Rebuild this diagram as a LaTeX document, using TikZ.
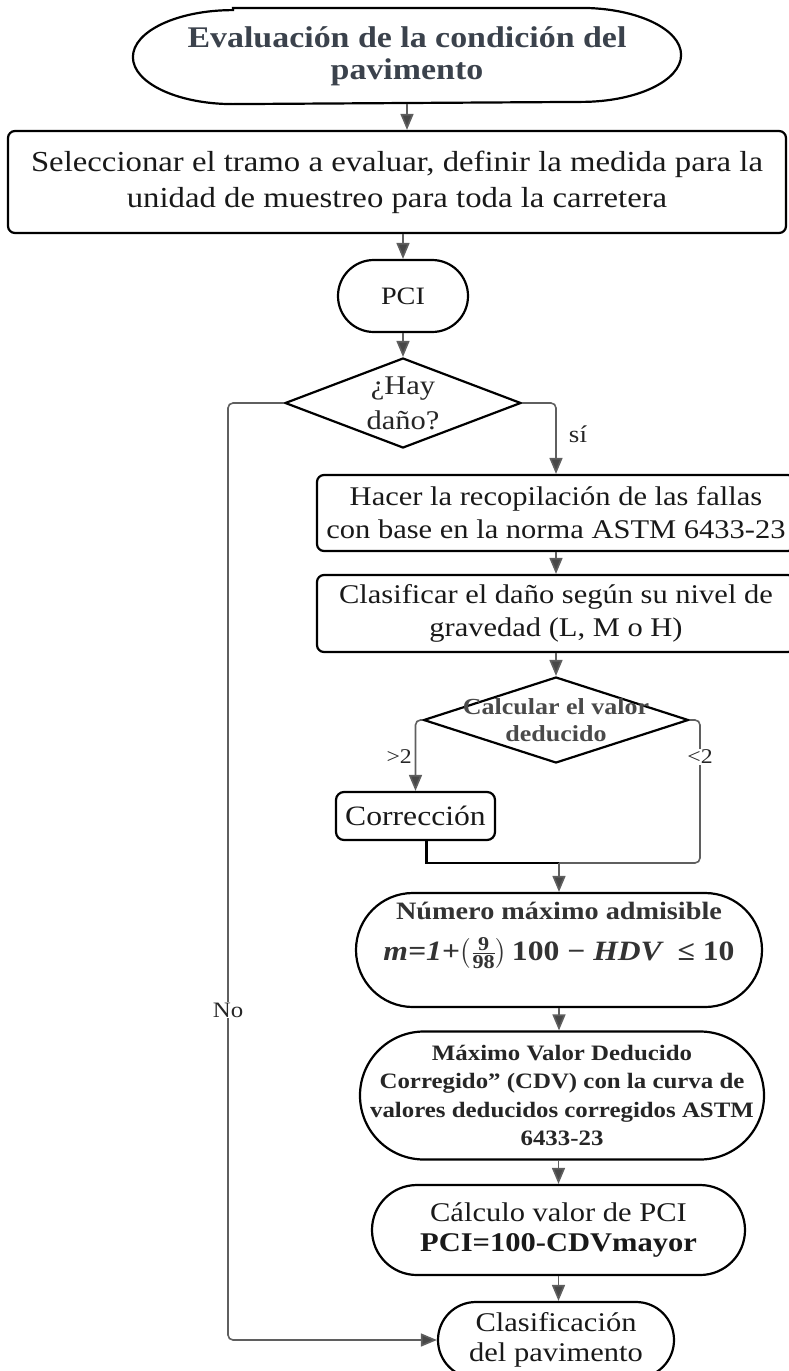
\documentclass[tikz,border=0pt]{standalone}
\usepackage{amsmath}
\usepackage{fontspec}
\setmainfont{Liberation Serif}[FakeStretch=1.13]
\usetikzlibrary{shapes.geometric,arrows.meta,calc}
\newcommand{\fsz}[2]{\fontsize{#1}{#2}\selectfont}
\definecolor{titlec}{HTML}{3B424C}
\definecolor{linec}{HTML}{5F5F5F}
\definecolor{headc}{HTML}{474747}
\definecolor{dtext}{HTML}{4A4A4A}
\tikzset{
  shp/.style={draw=black, line width=2.2pt, inner sep=0pt, align=center, text=black!90},
  boxs/.style={shp, rectangle, rounded corners=7pt},
  stad/.style={shp, rectangle},
  txt/.style={inner sep=0pt, align=center, text=black!90},
  dia/.style={draw=black, line width=2.2pt, diamond, inner sep=0pt, shape aspect=3},
  conn/.style={draw=linec, line width=1.6pt},
  arr/.style={conn, -{Triangle[length=16pt,width=13pt,fill=headc]}},
  blk/.style={draw=black, line width=2.2pt},
  lab/.style={inner sep=1pt, text=black!85}
}
\begin{document}
\begin{tikzpicture}[x=1pt,y=-1pt]
\useasboundingbox (0,0) rectangle (788,1371);
% nodes
\node[shp, draw=none, minimum width=546pt, minimum height=94pt, font=\fsz{30}{32}\bfseries, text=titlec] (start) at (407,56) {Evaluación de la condición del\\pavimento};
\draw[shp] ([xshift=100pt]start.north west) -- ([xshift=-100pt]start.north east)
  arc[start angle=90,end angle=-90,x radius=100pt,y radius=47pt]
  -- ([xshift=100pt]start.south west)
  arc[start angle=270,end angle=90,x radius=100pt,y radius=47pt] -- cycle;
\node[boxs, minimum width=778pt, minimum height=102pt, font=\fsz{29}{36}] (sel) at (397,182) {Seleccionar el tramo a evaluar, definir la medida para la\\unidad de muestreo para toda la carretera};
\node[stad, rounded corners=35.9pt, minimum width=130pt, minimum height=72pt, font=\fsz{25}{30}] (pci) at (403,296) {PCI};
\node[dia, minimum width=236pt, minimum height=90pt, label={[font=\fsz{27}{35}, align=center, text=black!85]center:{¿Hay\\daño?}}] (d1) at (403,403) {};
\node[boxs, minimum width=478pt, minimum height=76pt, font=\fsz{27}{33}] (hacer) at (556,513) {Hacer la recopilación de las fallas\\con base en la norma ASTM 6433-23};
\node[boxs, minimum width=478pt, minimum height=77pt, font=\fsz{27}{33}] (clasif) at (556,613.5) {Clasificar el daño según su nivel de\\gravedad (L, M o H)};
\node[dia, minimum width=265pt, minimum height=86pt, label={[font=\fsz{23}{27}\bfseries, align=center, text=dtext]center:{Calcular el valor\\deducido}}] (d2) at (556,720) {};
\node[boxs, rounded corners=8pt, minimum width=159pt, minimum height=48pt, font=\fsz{28}{34}] (corr) at (415.5,816) {Corrección};
\node[stad, rounded corners=56.9pt, minimum width=406pt, minimum height=114pt] (num) at (559,950) {};
\node[txt, font=\fsz{25}{30}\bfseries, text=black!80] (numt) at ([yshift=39pt]num.center) {Número máximo admisible};
\node[txt, font=\fsz{28}{34}\bfseries, text=black!80] (numf) at ([yshift=-3pt]num.center) {{\itshape m=1+}$\bigl(\frac{\textbf{9}}{\textbf{98}}\bigr)$\,100 − {\itshape HDV}\ \ ≤ 10};
\node[stad, rounded corners=63.9pt, minimum width=404pt, minimum height=128pt, font=\fsz{22}{28.5}\bfseries, text=black!85] (maxv) at (562,1095.5) {Máximo Valor Deducido\\Corregido'' (CDV) con la curva de\\valores deducidos corregidos ASTM\\6433-23};
\node[stad, rounded corners=44.9pt, minimum width=373pt, minimum height=90pt, font=\fsz{27}{30}] (calc) at (558.5,1230) {Cálculo valor de PCI\\\textbf{PCI=100-CDVmayor}};
\node[stad, rounded corners=37.9pt, minimum width=236pt, minimum height=76pt, font=\fsz{27}{30}] (clas) at (556,1340) {Clasificación\\del pavimento};
% helper coordinates
\coordinate (merge) at (559,863);
\coordinate (rb) at (700,863);
\coordinate (nc) at (228,1340);
% connectors
\draw[arr] (start.south) -- (start.south |- sel.north);
\draw[arr] (pci.north |- sel.south) -- (pci.north);
\draw[arr] (pci.south) -- (d1.north);
\draw[arr, rounded corners=5pt] (d1.east) -| (hacer.north);
\draw[arr] (hacer.south) -- (clasif.north);
\draw[arr] (clasif.south) -- (d2.north);
\draw[arr, rounded corners=5pt] (d2.west) -| (corr.north);
\draw[conn, rounded corners=5pt] (d2.east) -| (rb) -- (merge);
\draw[blk] ([xshift=11pt]corr.south) |- (merge);
\draw[arr] (merge) -- (merge |- num.north);
\draw[arr] (num.south) -- (num.south |- maxv.north);
\draw[arr] (calc.north |- maxv.south) -- (calc.north);
\draw[arr] (calc.south) -- (calc.south |- clas.north);
\draw[arr, rounded corners=5pt] (d1.west) -| (nc) -- (clas.west);
% labels
\node[lab, font=\fsz{24}{28}] (si) at (578,434) {sí};
\node[lab, font=\fsz{21}{24}, anchor=east] (gt) at (413,757) {>2};
\node[lab, font=\fsz{21}{24}, fill=white] (lt) at (700,757) {<2};
\node[lab, font=\fsz{22}{24}, fill=white] (no) at (228,1010) {No};
\end{tikzpicture}
\end{document}
